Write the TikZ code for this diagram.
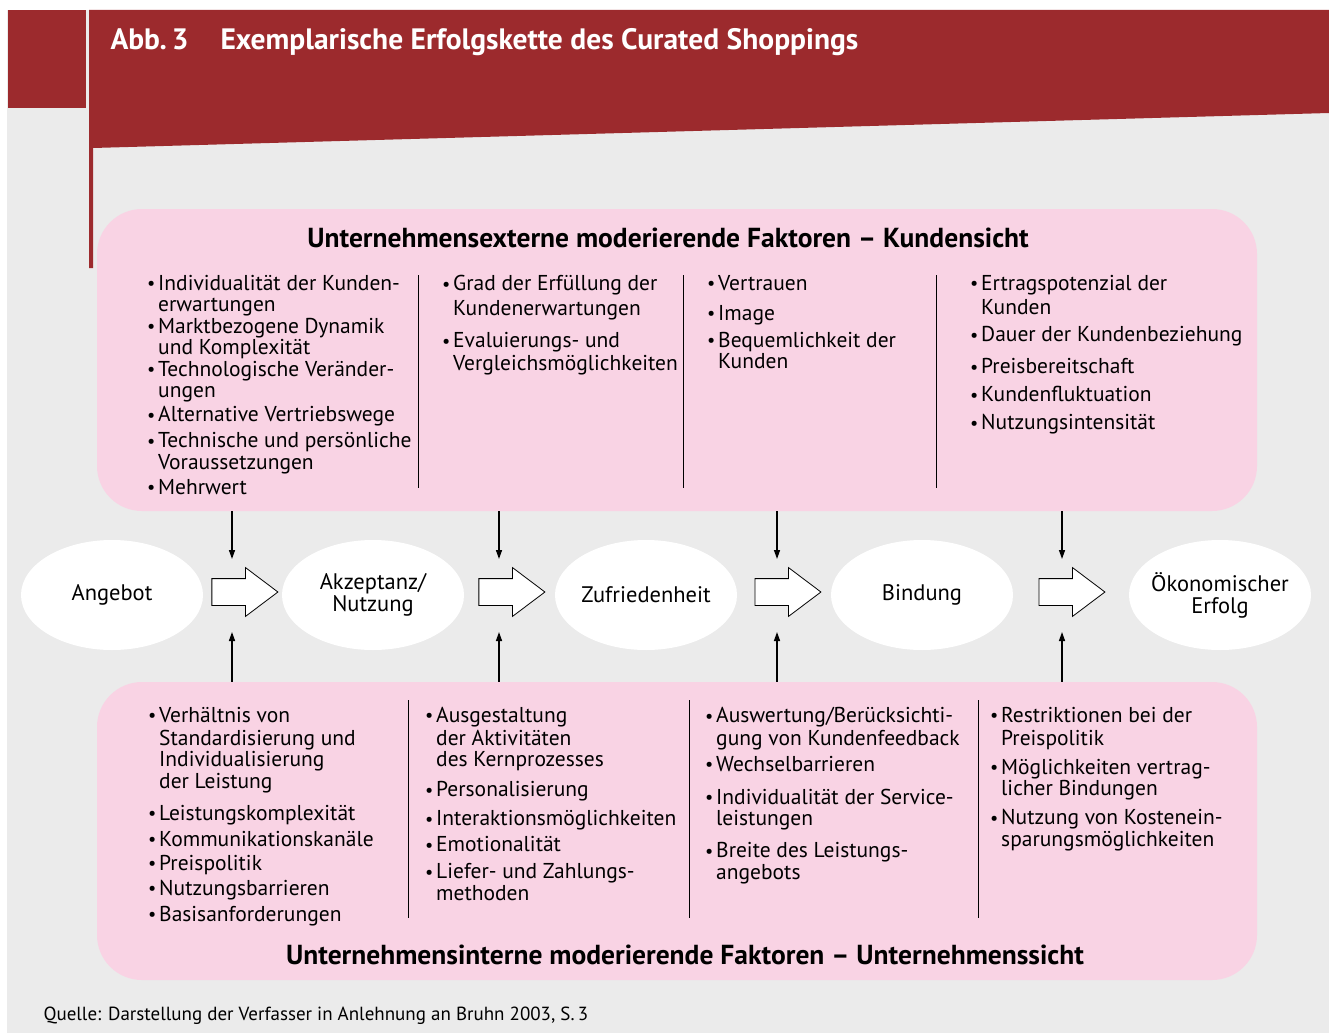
\documentclass[tikz,border=0pt]{standalone}
\usepackage{fontspec}
\setmainfont{PT Sans}
\usepackage{tikz}
\usetikzlibrary{arrows.meta,positioning,shapes.geometric,shapes.arrows,calc}
\definecolor{headred}{HTML}{9C2A2D}
\definecolor{panelgray}{HTML}{EBEBEB}
\definecolor{factorpink}{HTML}{F9D3E4}
\newcommand{\bul}{\makebox[11pt][l]{\raisebox{0.5pt}{\scalebox{0.85}{\textbullet}}}}
\newcommand{\ind}{\hspace*{11pt}}

\begin{document}
\begin{tikzpicture}[x=1pt,y=-1pt,
  stage/.style={ellipse,fill=white,minimum width=182pt,minimum height=110pt,
    inner ysep=0pt,inner xsep=-10pt,align=center,font=\fontsize{22.5}{22}\selectfont},
  flow/.style={single arrow,draw=black,fill=white,line width=0.8pt,
    minimum height=66pt,single arrow head extend=11pt,
    single arrow tip angle=74,inner xsep=0pt,inner ysep=13pt},
  factors/.style={rectangle,rounded corners=45pt,fill=factorpink,inner sep=0pt},
  itemcol/.style={anchor=north west,inner sep=0pt,align=left,
    font=\fontsize{21.5}{21.5}\selectfont},
  colrule/.style={line width=1pt},
  infl/.style={-{Triangle[length=9pt,width=6pt]},line width=1.4pt}]
  \useasboundingbox (0,0) rectangle (1329,1035);

  % Background and header band
  \fill[panelgray] (7,10) rectangle (1329,1033);
  \fill[headred] (8,10) rectangle (86,108);
  \fill[headred] (89,10) -- (1329,10) -- (1329,113) -- (93,148)
    -- (93,268) -- (89,268) -- cycle;
  \node[anchor=base west,text=white,font=\fontsize{29.5}{29.5}\selectfont\bfseries]
    (abb) at (107,50) {Abb.\,3};
  \node[anchor=base west,text=white,font=\fontsize{29.5}{29.5}\selectfont\bfseries]
    (title) at (217,50) {Exemplarische Erfolgskette des Curated Shoppings};

  % Moderating factors: customer view (top) and company view (bottom)
  \node[factors,minimum width=1160pt,minimum height=302pt] (ext) at (677,360) {};
  \node[factors,minimum width=1160pt,minimum height=298pt] (int) at (677,831) {};
  \node[font=\fontsize{27.5}{27.5}\selectfont\bfseries] (exthead) at (668,238)
    {Unternehmensexterne moderierende Faktoren -- Kundensicht};
  \node[font=\fontsize{27.5}{27.5}\selectfont\bfseries] (inthead) at (685,955)
    {Unternehmensinterne moderierende Faktoren -- Unternehmenssicht};

  \foreach \xx in {418,683,936}{\draw[colrule] (\xx,275) -- (\xx,488);}
  \foreach \xx in {408,689,978}{\draw[colrule] (\xx,700) -- (\xx,918);}

  \node[itemcol] (ext1) at (147,275) {\strut\bul Individualität der Kunden-\\
    \ind erwartungen\\
    \bul Marktbezogene Dynamik\\
    \ind und Komplexität\\
    \bul Technologische Veränder-\\
    \ind ungen\\[2.5pt]
    \bul Alternative Vertriebswege\\[4.5pt]
    \bul Technische und persönliche\\
    \ind Voraussetzungen\\[3.5pt]
    \bul Mehrwert};
  \node[itemcol] (ext2) at (442,275) {\strut\bul Grad der Erfüllung der\\[2.5pt]
    \ind Kundenerwartungen\\[10.5pt]
    \bul Evaluierungs- und\\[1.5pt]
    \ind Vergleichsmöglichkeiten};
  \node[itemcol] (ext3) at (707,275) {\strut\bul Vertrauen\\[7.5pt]
    \bul Image\\[5.5pt]
    \bul Bequemlichkeit der\\
    \ind Kunden};
  \node[itemcol] (ext4) at (970,275) {\strut\bul Ertragspotenzial der\\[2pt]
    \ind Kunden\\[5.5pt]
    \bul Dauer der Kundenbeziehung\\[10.5pt]
    \bul Preisbereitschaft\\[6.5pt]
    \bul Kundenfluktuation\\[6.5pt]
    \bul Nutzungsintensität};

  \node[itemcol] (int1) at (148,707) {\strut\bul Verhältnis von\\
    \ind Standardisierung und\\
    \ind Individualisierung\\
    \ind der Leistung\\[10.5pt]
    \bul Leistungskomplexität\\[4.5pt]
    \bul Kommunikationskanäle\\[2.5pt]
    \bul Preispolitik\\[3.5pt]
    \bul Nutzungsbarrieren\\[4.5pt]
    \bul Basisanforderungen};
  \node[itemcol] (int2) at (425,707) {\strut\bul Ausgestaltung\\
    \ind der Aktivitäten\\
    \ind des Kernprozesses\\[8.5pt]
    \bul Personalisierung\\[7.5pt]
    \bul Interaktionsmöglichkeiten\\[4.5pt]
    \bul Emotionalität\\[5.5pt]
    \bul Liefer- und Zahlungs-\\
    \ind methoden};
  \node[itemcol] (int3) at (705,707) {\strut\bul Auswertung/Berücksichti-\\
    \ind gung von Kundenfeedback\\[4.5pt]
    \bul Wechselbarrieren\\[11.5pt]
    \bul Individualität der Service-\\
    \ind leistungen\\[10.5pt]
    \bul Breite des Leistungs-\\
    \ind angebots};
  \node[itemcol] (int4) at (990,707) {\strut\bul Restriktionen bei der\\
    \ind Preispolitik\\[7.5pt]
    \bul Möglichkeiten vertrag-\\
    \ind licher Bindungen\\[7.5pt]
    \bul Nutzung von Kostenein-\\
    \ind sparungsmöglichkeiten};

  % Success chain
  \node[stage] (angebot) at (112,595) {Angebot};
  \node[stage] (akzeptanz) at (373,595) {Akzeptanz/\\Nutzung};
  \node[stage] (zufrieden) at (646,595) {Zufriedenheit};
  \node[stage] (bindung) at (922,595) {Bindung};
  \node[stage] (erfolg) at (1220,595) {Ökonomischer\\Erfolg};
  \node[flow] (f1) at (236,592) {};
  \node[flow] (f2) at (503,592) {};
  \node[flow] (f3) at (779,592) {};
  \node[flow] (f4) at (1063,592) {};

  \foreach \i/\xx in {1/232,2/499,3/777,4/1062}{
    \coordinate (dn\i) at (\xx,559);
    \coordinate (up\i) at (\xx,632);
    \draw[infl] (ext.south -| dn\i) -- (dn\i);
    \draw[infl] (int.north -| up\i) -- (up\i);
  }

  \node[anchor=base west,font=\fontsize{19}{19}\selectfont] (src) at (40,1020)
    {Quelle: Darstellung der Verfasser in Anlehnung an Bruhn 2003, S.\,3};
\end{tikzpicture}
\end{document}
